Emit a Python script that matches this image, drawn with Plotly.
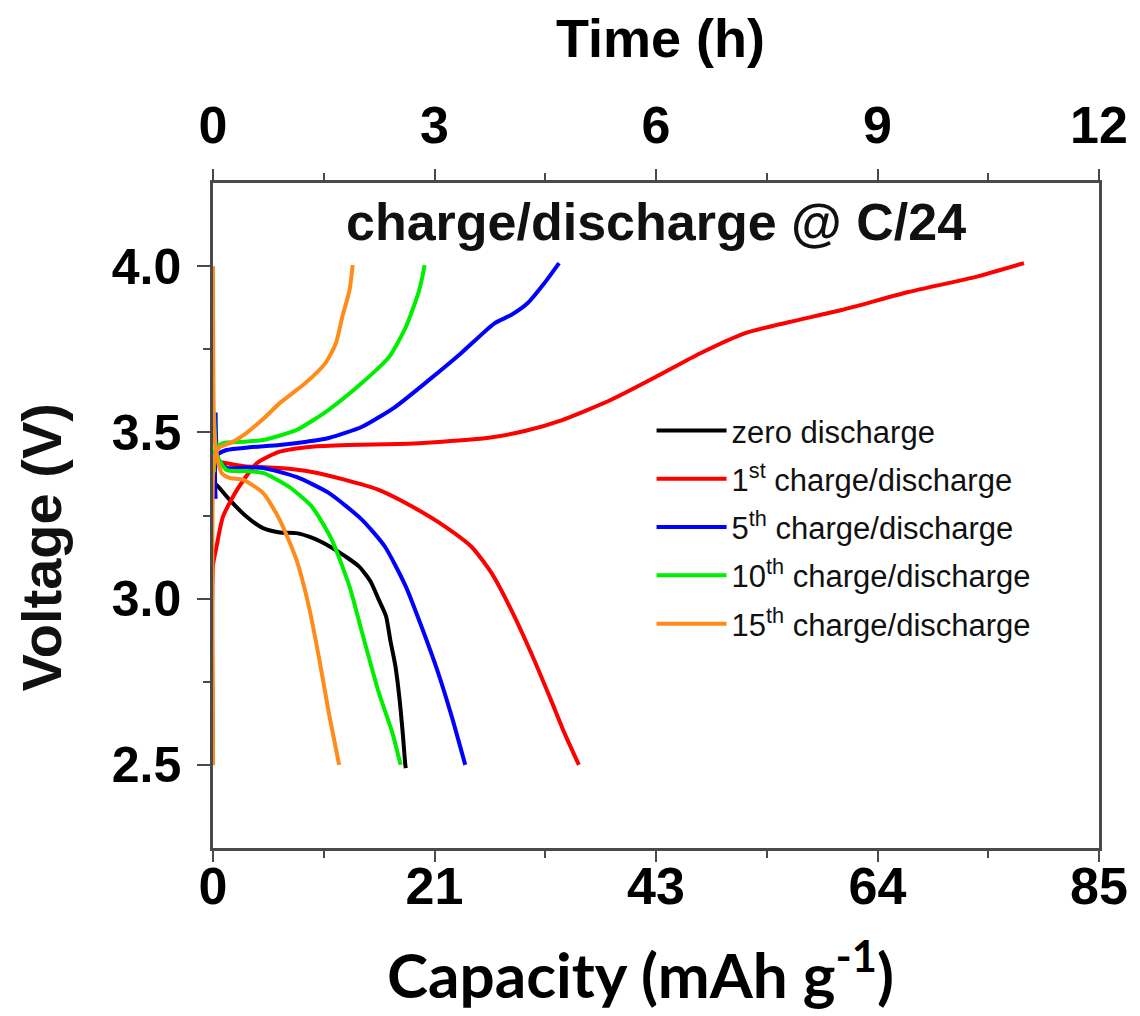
import plotly.graph_objects as go

# ---- data (capacity in mAh/g, voltage in V); None separates charge and discharge ----
zero_cap = [0.2, 0.5, 1.6, 3.2, 4.8, 6.4, 8.0, 9.6, 11.2, 12.7, 14.0, 15.1, 15.9, 16.6, 17.0, 17.5, 17.9, 18.2, 18.45, 18.5]
zero_v = [3.345, 3.337, 3.297, 3.247, 3.212, 3.199, 3.197, 3.182, 3.157, 3.127, 3.097, 3.052, 2.997, 2.947, 2.877, 2.797, 2.697, 2.597, 2.50, 2.49]

c1_cap = [0.0, 0.0, 0.3, 0.95, 2.3, 4.2, 6.4, 9.5, 13.0, 17.8, 22.0, 26.3, 30.0, 33.5, 38.2, 42.5, 46.75, 51.0, 55.3, 60.3, 66.7, 73.1, 77.8,
          None,
          0.8, 3.0, 6.4, 9.5, 12.7, 15.9, 19.1, 22.3, 24.8, 26.7, 28.6, 30.5, 32.4, 33.7, 35.1]
c1_v = [2.50, 3.10, 3.15, 3.246, 3.327, 3.407, 3.442, 3.457, 3.462, 3.465, 3.472, 3.483, 3.505, 3.537, 3.598, 3.667, 3.738, 3.798, 3.832, 3.868, 3.922, 3.967, 4.009,
        None,
        3.41, 3.398, 3.393, 3.381, 3.357, 3.327, 3.277, 3.216, 3.156, 3.078, 2.967, 2.838, 2.697, 2.597, 2.50]

c5_cap = [0.25, 0.35, 1.3, 3.5, 6.4, 9.0, 11.1, 14.3, 17.5, 20.7, 23.8, 27.0, 28.6, 30.2, 31.8, 33.2,
          None,
          0.25, 0.5, 1.3, 3.0, 4.8, 8.0, 11.1, 14.3, 16.5, 18.5, 20.0, 21.6, 22.9, 24.2]
c5_v = [3.30, 3.43, 3.447, 3.455, 3.462, 3.472, 3.483, 3.517, 3.577, 3.657, 3.738, 3.828, 3.853, 3.889, 3.949, 4.009,
        None,
        3.56, 3.42, 3.393, 3.394, 3.393, 3.366, 3.318, 3.237, 3.156, 3.036, 2.916, 2.777, 2.646, 2.50]

c10_cap = [0.1, 0.25, 0.97, 3.0, 4.8, 8.0, 11.1, 14.3, 16.9, 18.5, 19.7, 20.1, 20.3,
           None,
           0.1, 0.4, 1.3, 3.0, 4.8, 7.3, 9.5, 11.4, 13.1, 14.3, 15.9, 17.2, 18.0]
c10_v = [3.38, 3.45, 3.468, 3.472, 3.477, 3.507, 3.568, 3.649, 3.727, 3.817, 3.919, 3.97, 4.003,
         None,
         3.56, 3.43, 3.387, 3.384, 3.378, 3.336, 3.276, 3.177, 3.036, 2.898, 2.718, 2.597, 2.50]

c15_cap = [0.0, 0.05, 0.3, 0.67, 1.8, 3.2, 4.8, 6.4, 8.9, 10.8, 11.8, 12.4, 13.1, 13.4,
           None,
           0.0, 0.1, 0.3, 0.83, 1.6, 2.9, 4.8, 6.4, 8.0, 9.2, 10.2, 11.1, 12.1]
c15_v = [2.50, 3.40, 3.44, 3.456, 3.47, 3.498, 3.54, 3.588, 3.649, 3.709, 3.769, 3.847, 3.928, 4.003,
         None,
         4.00, 3.52, 3.44, 3.378, 3.363, 3.357, 3.318, 3.237, 3.117, 2.976, 2.817, 2.658, 2.50]

series_names = ["zero discharge", "1<sup>st</sup> charge/discharge", "5<sup>th</sup> charge/discharge",
                "10<sup>th</sup> charge/discharge", "15<sup>th</sup> charge/discharge"]
series_colors = ["#000000", "#FF0000", "#0000FF", "#00EE00", "#FF8C1A"]
series_x = [zero_cap, c1_cap, c5_cap, c10_cap, c15_cap]
series_y = [zero_v, c1_v, c5_v, c10_v, c15_v]

cap_ticks = [0, 21.25, 42.5, 63.75, 85]
cap_ticktext = ["0", "21", "43", "64", "85"]
time_ticks = [0, 3, 6, 9, 12]
volt_ticks = [2.5, 3.0, 3.5, 4.0]

AX = "#4a4a4a"
SANS = "Liberation Sans, Arial, sans-serif"

fig = go.Figure()
for i, (nm, col, xs, ys) in enumerate(zip(series_names, series_colors, series_x, series_y)):
    fig.add_trace(go.Scatter(x=xs, y=ys, mode="lines", name=nm, legendgroup=f"g{i}",
                             line=dict(color=col, width=4, shape="spline", smoothing=0.6),
                             connectgaps=False))

fig.update_layout(
    width=1140, height=1016,
    margin=dict(l=213, r=35, t=183, b=168),
    paper_bgcolor="white", plot_bgcolor="white",
    showlegend=True,
    legend=dict(x=0.495, y=0.668, xanchor="left", yanchor="top",
                font=dict(family=SANS, size=31, color="#111"),
                bgcolor="rgba(0,0,0,0)", tracegroupgap=5, itemwidth=70),
    xaxis=dict(range=[0, 85], tickvals=cap_ticks, ticktext=cap_ticktext,
               showline=True, linecolor=AX, linewidth=2.5, mirror=False,
               ticks="outside", ticklen=11, tickwidth=2, tickcolor=AX,
               minor=dict(tickvals=[10.625, 31.875, 53.125, 74.375], ticks="outside", ticklen=7, tickwidth=2, tickcolor=AX),
               tickfont=dict(family=SANS, size=52, color="#000", weight="bold"),
               ticklabelstandoff=-20,
               showgrid=False, zeroline=False),
    xaxis2=dict(range=[0, 12], tickvals=time_ticks, overlaying="x", side="top", anchor="y",
                showline=True, linecolor=AX, linewidth=2.5,
                ticks="outside", ticklen=11, tickwidth=2, tickcolor=AX,
                minor=dict(tickvals=[1.5, 4.5, 7.5, 10.5], ticks="outside", ticklen=7, tickwidth=2, tickcolor=AX),
                tickfont=dict(family=SANS, size=52, color="#000", weight="bold"),
                ticklabelstandoff=5,
                showgrid=False, zeroline=False),
    yaxis=dict(range=[2.25, 4.25], tickvals=volt_ticks, tickformat=".1f",
               showline=True, linecolor=AX, linewidth=2.5, mirror=True,
               ticks="outside", ticklen=13, tickwidth=2, tickcolor=AX,
               minor=dict(tickvals=[2.75, 3.25, 3.75], ticks="outside", ticklen=7, tickwidth=2, tickcolor=AX),
               tickfont=dict(family=SANS, size=50, color="#000", weight="bold"),
               ticklabelstandoff=6,
               showgrid=False, zeroline=False),
    annotations=[
        dict(text="charge/discharge @ C/24", xref="paper", yref="paper", x=0.5, y=0.941,
             xanchor="center", yanchor="middle", showarrow=False,
             font=dict(family=SANS, size=52, color="#111", weight="bold")),
        dict(text="Time (h)", xref="paper", yref="paper", x=0.505, y=1.0, yshift=145,
             xanchor="center", yanchor="middle", showarrow=False,
             font=dict(family=SANS, size=54, color="#000", weight="bold")),
        dict(text="Voltage (V)", xref="paper", yref="paper", x=0, xshift=-172, y=0.452,
             xanchor="center", yanchor="middle", textangle=-90, showarrow=False,
             font=dict(family=SANS, size=56, color="#111", weight="bold")),
        dict(text="Capacity (mAh g<sup>-1</sup>)", xref="paper", yref="paper", x=0.482, y=0, yshift=-122,
             xanchor="center", yanchor="middle", showarrow=False,
             font=dict(family="Lato, Open Sans, sans-serif", size=62, color="#000", weight="bold")),
    ],
)
# invisible trace so the top time axis is bound to data
fig.add_trace(go.Scatter(x=[0, 12], y=[None, None], xaxis="x2", mode="lines", showlegend=False, hoverinfo="skip"))

fig.write_html("out.html")
